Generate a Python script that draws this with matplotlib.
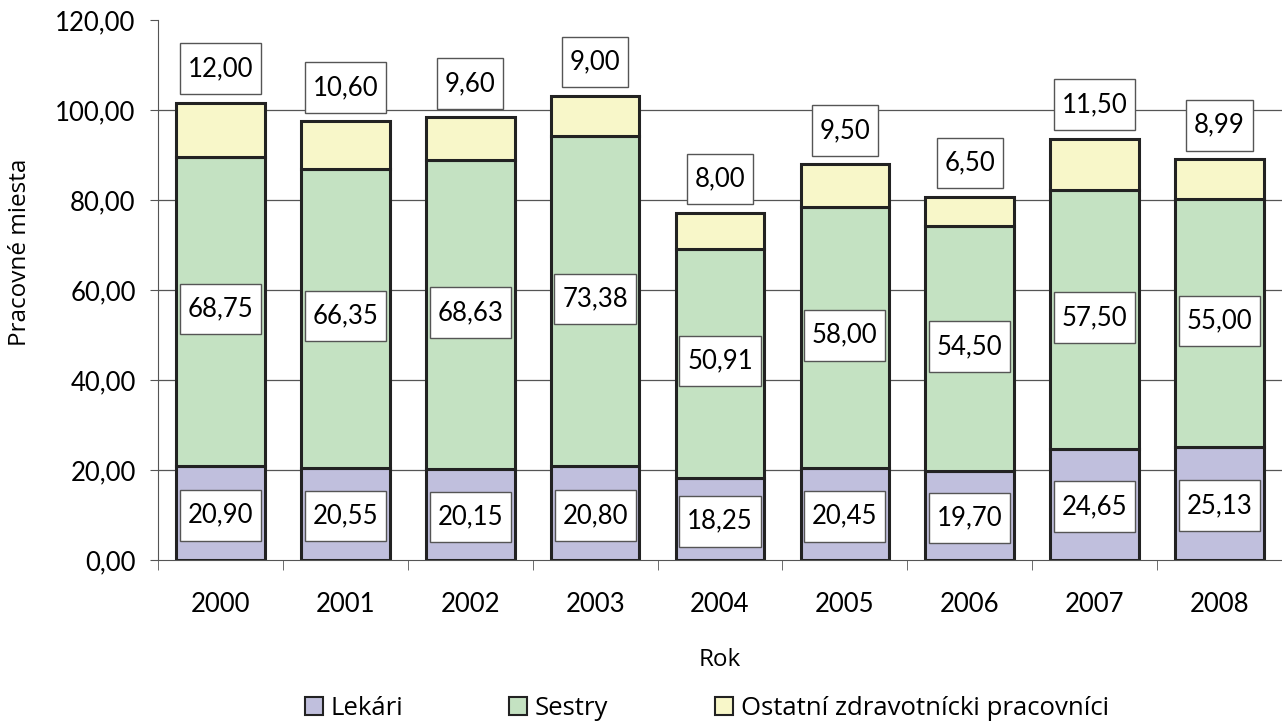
import numpy as np
import matplotlib
matplotlib.use("Agg")
import matplotlib.pyplot as plt
from matplotlib.patches import Patch
from matplotlib.path import Path

plt.rcParams['font.family'] = ['Lato', 'DejaVu Sans']

# údaje
roky = ['2000', '2001', '2002', '2003', '2004', '2005', '2006', '2007', '2008']
lekari = [20.90, 20.55, 20.15, 20.80, 18.25, 20.45, 19.70, 24.65, 25.13]
sestry = [68.75, 66.35, 68.63, 73.38, 50.91, 58.00, 54.50, 57.50, 55.00]
ostatni = [12.00, 10.60, 9.60, 9.00, 8.00, 9.50, 6.50, 11.50, 8.99]

farby = ['#c0bfdd', '#c4e2c2', '#f8f7c9']
nazvy = ['Lekári', 'Sestry', 'Ostatní zdravotnícki pracovníci']

def fmt(v):
    return f"{v:.2f}".replace('.', ',')

# rámik popisku - vyšší ako širší okraj
def ramik(x0, y0, width, height, mutation_size):
    px = 0.3 * mutation_size
    py = 0.5 * mutation_size
    x1, y1 = x0 - px, y0 - py
    x2, y2 = x0 + width + px, y0 + height + py
    return Path([(x1, y1), (x2, y1), (x2, y2), (x1, y2), (x1, y1)], closed=True)

fig = plt.figure(figsize=(12.82, 7.24), dpi=100)
ax = fig.add_axes([0.1232, 0.2265, 0.8768, 0.7459])

x = np.arange(len(roky))
lek = np.array(lekari)
ses = np.array(sestry)
ost = np.array(ostatni)

# mriežka
for yv in range(20, 120, 20):
    ax.axhline(yv, color='#555555', lw=0.9, zorder=0)

w = 0.71
kw = dict(edgecolor='#222222', linewidth=2.2, zorder=2)
ax.bar(x, lek, w, color=farby[0], **kw)
ax.bar(x, ses, w, bottom=lek, color=farby[1], **kw)
ax.bar(x, ost, w, bottom=lek + ses, color=farby[2], **kw)

box = dict(boxstyle=ramik, fc='white', ec='#555555', lw=1)
for i in range(len(roky)):
    ax.text(x[i], lek[i] / 2 - 0.5, fmt(lek[i]), ha='center', va='center',
            fontsize=18.5, bbox=box, zorder=3)
    ax.text(x[i], lek[i] + ses[i] / 2 + 0.5, fmt(ses[i]), ha='center', va='center',
            fontsize=18.5, bbox=box, zorder=3)
    ax.text(x[i], lek[i] + ses[i] + ost[i] + 7.5, fmt(ost[i]), ha='center', va='center',
            fontsize=18.5, bbox=box, zorder=3)

ax.set_xlim(-0.5, len(roky) - 0.5)
ax.set_ylim(0, 120)
ax.set_yticks(range(0, 121, 20))
ax.set_yticklabels([fmt(v) for v in range(0, 121, 20)], fontsize=18.5)
ax.set_xticks(x)
ax.set_xticklabels(roky, fontsize=18.5)
ax.set_xticks(np.arange(-0.5, len(roky)), minor=True)
ax.tick_params(axis='x', which='major', length=0, pad=23)
ax.tick_params(axis='x', which='minor', length=7, color='#555555')
ax.tick_params(axis='y', length=6, color='#555555', pad=10)

for s in ['top', 'right']:
    ax.spines[s].set_visible(False)
ax.spines['left'].set_color('#555555')
ax.spines['bottom'].set_color('#555555')

ax.set_ylabel('Pracovné miesta', fontsize=17.5, family=['Open Sans', 'DejaVu Sans'])
ax.yaxis.set_label_coords(-0.112, 0.57)
ax.set_xlabel('Rok', fontsize=17.5, labelpad=22, family=['Open Sans', 'DejaVu Sans'])

# legenda - tri samostatné položky ako v Exceli
pozicie = [0.2379, 0.397, 0.5577]
for c, n, px in zip(farby, nazvy, pozicie):
    h = Patch(facecolor=c, edgecolor='#222222', lw=1.5)
    fig.legend([h], [n], loc='center left', bbox_to_anchor=(px, 0.022),
               frameon=False, handlelength=0.7, handleheight=0.7,
               handletextpad=0.3, borderpad=0, borderaxespad=0,
               prop={'family': ['Open Sans', 'DejaVu Sans'], 'size': 18.5})

fig.savefig('out.png', dpi=100)
